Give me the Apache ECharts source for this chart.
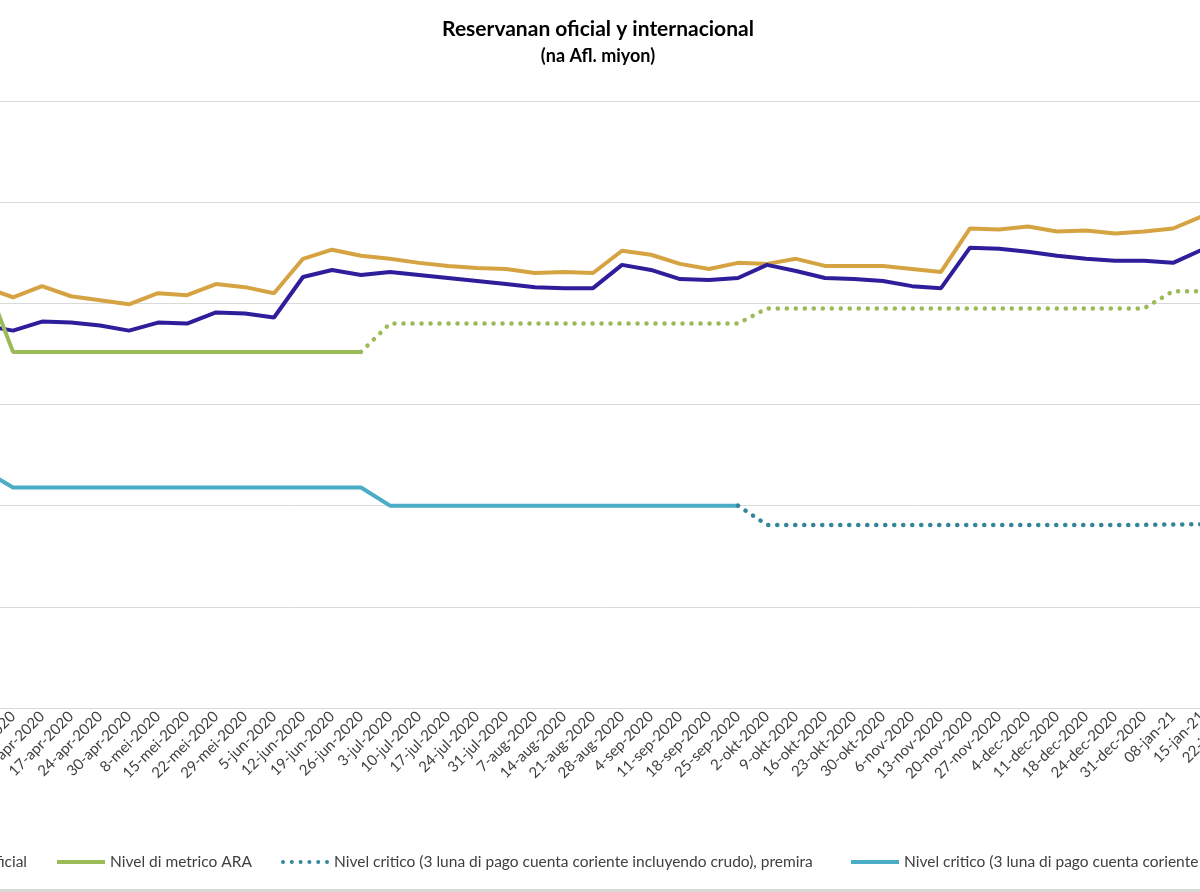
<!DOCTYPE html>
<html>
<head>
<meta charset="utf-8">
<style>
  html, body { margin: 0; padding: 0; background: #fff; overflow: hidden; }
  #wrap { position: relative; width: 1200px; height: 892px; overflow: hidden; }
  #chartDiv { position: absolute; left: -100px; top: 0; width: 1396px; height: 892px; }
</style>
</head>
<body>
<div id="wrap"><div id="chartDiv"></div></div>

<script src="https://cdn.jsdelivr.net/npm/echarts@6/dist/echarts.min.js"></script>
<script type="text/javascript">
    var weeks = ['27-mrt-2020', '3-apr-2020', '10-apr-2020', '17-apr-2020', '24-apr-2020', '30-apr-2020',
        '8-mei-2020', '15-mei-2020', '22-mei-2020', '29-mei-2020', '5-jun-2020', '12-jun-2020', '19-jun-2020',
        '26-jun-2020', '3-jul-2020', '10-jul-2020', '17-jul-2020', '24-jul-2020', '31-jul-2020', '7-aug-2020',
        '14-aug-2020', '21-aug-2020', '28-aug-2020', '4-sep-2020', '11-sep-2020', '18-sep-2020', '25-sep-2020',
        '2-okt-2020', '9-okt-2020', '16-okt-2020', '23-okt-2020', '30-okt-2020', '6-nov-2020', '13-nov-2020',
        '20-nov-2020', '27-nov-2020', '4-dec-2020', '11-dec-2020', '18-dec-2020', '24-dec-2020', '31-dec-2020',
        '08-jan-21', '15-jan-21', '22-jan-21'];

    var internacional = [2080, 2030, 2085, 2035, 2015, 1995, 2050, 2040, 2095, 2080, 2050, 2220, 2265, 2235,
        2220, 2200, 2185, 2175, 2170, 2150, 2155, 2150, 2260, 2240, 2195, 2170, 2200, 2195, 2220, 2185, 2185,
        2185, 2170, 2155, 2370, 2365, 2380, 2355, 2360, 2345, 2355, 2370, 2430, 2485];

    var oficial = [1890, 1865, 1910, 1905, 1890, 1865, 1905, 1900, 1955, 1950, 1930, 2130, 2165, 2140,
        2155, 2140, 2125, 2110, 2095, 2080, 2075, 2075, 2190, 2165, 2120, 2115, 2125, 2190, 2160, 2125, 2120,
        2110, 2085, 2075, 2275, 2270, 2255, 2235, 2220, 2210, 2210, 2200, 2265, 2315];

    var araMetric = [2135, 1760, 1760, 1760, 1760, 1760, 1760, 1760, 1760, 1760, 1760, 1760, 1760, 1760,
        null, null, null, null, null, null, null, null, null, null, null, null, null, null, null, null,
        null, null, null, null, null, null, null, null, null, null, null, null, null, null];

    var araPremira = [null, null, null, null, null, null, null, null, null, null, null, null, null, 1760,
        1900, 1900, 1900, 1900, 1900, 1900, 1900, 1900, 1900, 1900, 1900, 1900, 1900, 1975, 1975, 1975,
        1975, 1975, 1975, 1975, 1975, 1975, 1975, 1975, 1975, 1975, 1975, 2060, 2060, 2060];

    var critico = [1175, 1090, 1090, 1090, 1090, 1090, 1090, 1090, 1090, 1090, 1090, 1090, 1090, 1090,
        1000, 1000, 1000, 1000, 1000, 1000, 1000, 1000, 1000, 1000, 1000, 1000, 1000, null, null, null,
        null, null, null, null, null, null, null, null, null, null, null, null, null, null];

    var criticoPremira = [null, null, null, null, null, null, null, null, null, null, null, null, null, null,
        null, null, null, null, null, null, null, null, null, null, null, null, 1000, 905, 905, 905,
        905, 905, 905, 905, 905, 905, 905, 905, 905, 905, 905, 907, 908, 908];

    var nameInt = 'Reservanan internacional';
    var nameOf = 'Reservanan oficial';
    var nameAra = 'Nivel di metrico ARA';
    var nameAraP = 'Nivel di metrico ARA, premira';
    var nameCritP = 'Nivel critico (3 luna di pago cuenta coriente incluyendo crudo), premira';
    var nameCrit = 'Nivel critico (3 luna di pago cuenta coriente excluyendo crudo)';

    var font = 'Lato, "Noto Sans", sans-serif';
    var legendFontSize = 15.5;
    var dots = [0.1, 8.9];

    // legend samples: a thick bar, or a row of round dots
    var barIcon = 'path://M0,0L48,0L48,4L0,4Z';
    var dotIcon = 'path://M0,2a2,2 0 1,0 4,0a2,2 0 1,0 -4,0Z' +
        'M8.8,2a2,2 0 1,0 4,0a2,2 0 1,0 -4,0Z' +
        'M17.6,2a2,2 0 1,0 4,0a2,2 0 1,0 -4,0Z' +
        'M26.4,2a2,2 0 1,0 4,0a2,2 0 1,0 -4,0Z' +
        'M35.2,2a2,2 0 1,0 4,0a2,2 0 1,0 -4,0Z' +
        'M44,2a2,2 0 1,0 4,0a2,2 0 1,0 -4,0Z';

    // the "oficial" entry is cut by the left edge: its text ends at x=127 in the chart div
    var ctx = document.createElement('canvas').getContext('2d');
    ctx.font = legendFontSize + 'px ' + font;
    var ofLeft = 127 - ctx.measureText(nameOf).width - 5 - 48;
    var intLeft = ofLeft - 30 - ctx.measureText(nameInt).width - 5 - 48;

    var legendBase = {
        orient: 'horizontal',
        top: 854,
        padding: 0,
        align: 'left',
        itemWidth: 48,
        itemHeight: 4,
        itemGap: 30,
        textStyle: { fontSize: legendFontSize, color: '#404040', fontFamily: font }
    };

    var myChart = echarts.init(document.getElementById('chartDiv'));

    var option = {
        animation: false,
        title: {
            text: 'Reservanan oficial y internacional',
            subtext: '(na Afl. miyon)',
            left: 'center',
            top: 14,
            itemGap: 7,
            textStyle: { fontSize: 21, fontWeight: 'bold', color: '#000', fontFamily: font },
            subtextStyle: { fontSize: 18, fontWeight: 'bold', color: '#000', fontFamily: font }
        },
        legend: [
            Object.assign({}, legendBase, { left: intLeft, data: [{ name: nameInt, icon: barIcon }] }),
            Object.assign({}, legendBase, { left: ofLeft, data: [{ name: nameOf, icon: barIcon }] }),
            Object.assign({}, legendBase, { left: 157, data: [{ name: nameAra, icon: barIcon }] }),
            Object.assign({}, legendBase, { left: 381, data: [{ name: nameCritP, icon: dotIcon }] }),
            Object.assign({}, legendBase, {
                left: 951,
                data: [{ name: nameCrit, icon: barIcon }, { name: nameAraP, icon: dotIcon }]
            })
        ],
        grid: {
            left: 84,
            right: 65,
            top: 101,
            bottom: 184,
            containLabel: false
        },
        xAxis: {
            type: 'category',
            boundaryGap: false,
            data: weeks,
            axisLine: { lineStyle: { color: '#d9d9d9', width: 1 } },
            axisTick: { show: false },
            axisLabel: {
                interval: 0,
                rotate: 45,
                margin: 6,
                fontSize: 15,
                color: '#404040',
                fontFamily: font
            }
        },
        yAxis: {
            type: 'value',
            min: 0,
            max: 3000,
            interval: 500,
            axisLine: { show: false },
            axisTick: { show: false },
            axisLabel: { fontSize: 15, color: '#404040', fontFamily: font },
            splitLine: { lineStyle: { color: '#d9d9d9', width: 1 } }
        },
        graphic: [{
            type: 'rect',
            shape: { x: 0, y: 889, width: 1396, height: 3 },
            style: { fill: '#d9d9d9' },
            silent: true
        }],
        series: [
            {
                name: nameInt, type: 'line', data: internacional, symbol: 'none',
                itemStyle: { color: '#D6A343' },
                lineStyle: { color: '#D6A343', width: 4 }
            },
            {
                name: nameOf, type: 'line', data: oficial, symbol: 'none',
                itemStyle: { color: '#2E1E9C' },
                lineStyle: { color: '#2E1E9C', width: 4 }
            },
            {
                name: nameAra, type: 'line', data: araMetric, symbol: 'none',
                itemStyle: { color: '#9BBB59' },
                lineStyle: { color: '#9BBB59', width: 4 }
            },
            {
                name: nameAraP, type: 'line', data: araPremira, symbol: 'none',
                itemStyle: { color: '#9BBB59' },
                lineStyle: { color: '#9BBB59', width: 4.5, type: dots, cap: 'round' }
            },
            {
                name: nameCrit, type: 'line', data: critico, symbol: 'none',
                itemStyle: { color: '#4BACC6' },
                lineStyle: { color: '#4BACC6', width: 4 }
            },
            {
                name: nameCritP, type: 'line', data: criticoPremira, symbol: 'none',
                itemStyle: { color: '#31869B' },
                lineStyle: { color: '#31869B', width: 4.5, type: dots, cap: 'round' }
            }
        ]
    };

    myChart.setOption(option);
</script>
</body>
</html>
